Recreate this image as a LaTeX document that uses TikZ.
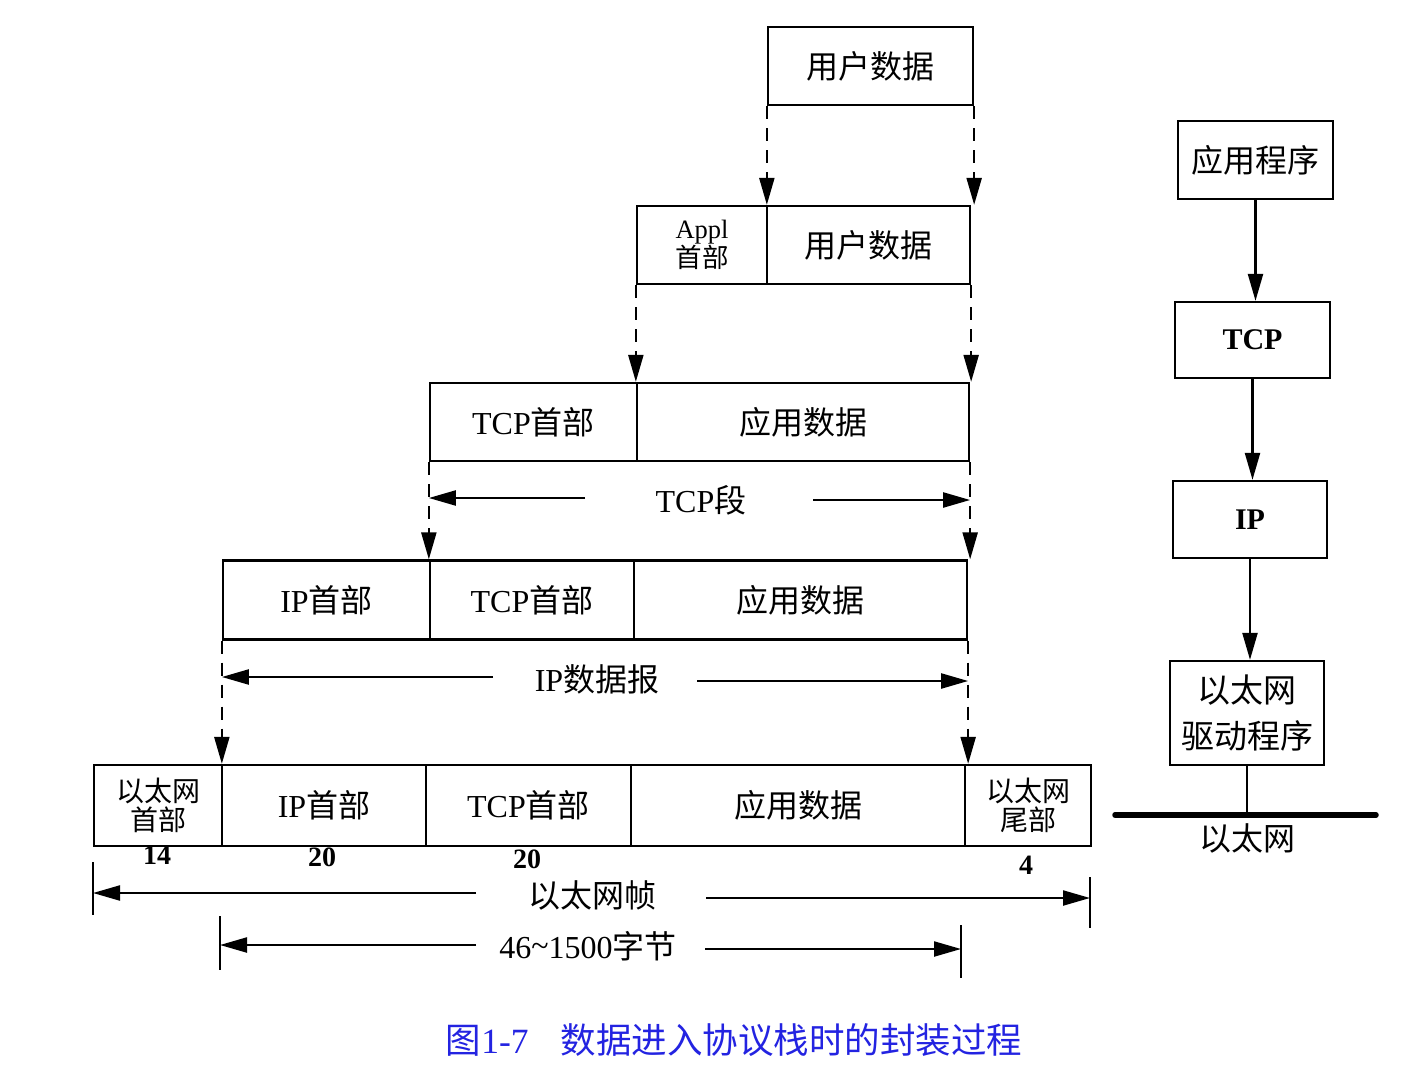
\documentclass[tikz,border=0pt]{standalone}
\usepackage{fontspec}
\setmainfont{Liberation Serif}
\newfontfamily\cjk{Noto Sans CJK SC}
\usetikzlibrary{arrows.meta,calc}
\definecolor{capblue}{RGB}{35,35,225}
\begin{document}
\begin{tikzpicture}[x=1pt,y=-1pt,
  box/.style={draw,line width=2.3pt,inner sep=0pt,minimum height=78pt,align=center,font=\fontsize{32}{36}\selectfont},
  smallbox/.style={box,font=\fontsize{26.5}{27}\selectfont},
  tip/.style={-{Triangle[length=27pt,width=15pt]}},
  dasharrow/.style={tip,line width=2.3pt,dash pattern=on 13pt off 9pt},
  solidarrow/.style={tip,line width=2.3pt},
  dimarrow/.style={tip,line width=2.2pt},
  tick/.style={line width=1.8pt},
  lbl/.style={inner sep=0pt,font=\fontsize{32}{36}\selectfont},
  num/.style={inner sep=0pt,font=\fontsize{28}{30}\selectfont\bfseries}
]
\useasboundingbox (0,0) rectangle (1409,1068);

% row 1
\node[box,minimum width=205pt] (u1) at (870.5,66) {\cjk 用户数据};
% row 2
\node[smallbox,minimum width=130pt] (r2a) at (702,245) {Appl\\\cjk 首部};
\node[box,minimum width=203pt] (r2b) at (868.5,245) {\cjk 用户数据};
% row 3
\node[box,minimum width=207pt] (r3a) at (533.5,422) {TCP\cjk 首部};
\node[box,minimum width=332pt] (r3b) at (803,422) {\cjk 应用数据};
% row 4
\node[box,minimum width=207pt,minimum height=79pt] (r4a) at (326.5,600) {IP\cjk 首部};
\node[box,minimum width=204pt,minimum height=79pt] (r4b) at (532,600) {TCP\cjk 首部};
\node[box,minimum width=333pt,minimum height=79pt] (r4c) at (800.5,600) {\cjk 应用数据};
% row 5
\node[box,minimum width=128pt,minimum height=81pt,font=\fontsize{28}{29}\selectfont] (r5a) at (158,805.5) {\cjk 以太网\\\cjk 首部};
\node[box,minimum width=204pt,minimum height=81pt] (r5b) at (324,805.5) {IP\cjk 首部};
\node[box,minimum width=205pt,minimum height=81pt] (r5c) at (528.5,805.5) {TCP\cjk 首部};
\node[box,minimum width=334pt,minimum height=81pt] (r5d) at (798,805.5) {\cjk 应用数据};
\node[box,minimum width=126pt,minimum height=81pt,font=\fontsize{28}{29}\selectfont] (r5e) at (1028,805.5) {\cjk 以太网\\\cjk 尾部};

% dashed arrows
\draw[dasharrow] (u1.south west) -- (u1.south west |- r2b.north);
\draw[dasharrow] (u1.south east) -- (u1.south east |- r2b.north);
\draw[dasharrow] (r2a.south west) -- (r2a.south west |- r3a.north);
\draw[dasharrow] (r2b.south east) -- (r2b.south east |- r3b.north);
\draw[dasharrow] (r3a.south west) -- (r3a.south west |- r4a.north);
\draw[dasharrow] (r3b.south east) -- (r3b.south east |- r4c.north);
\draw[dasharrow] (r4a.south west) -- (r4a.south west |- r5b.north);
\draw[dasharrow] (r4c.south east) -- (r4c.south east |- r5d.north);

% TCP segment
\node[lbl] (tcpseg) at (701,500) {TCP\cjk 段};
\coordinate (tsL) at (585,498);
\coordinate (tsR) at (813,500);
\draw[dimarrow] (tsL) -- (tsL -| r3a.west);
\draw[dimarrow] (tsR) -- (tsR -| r3b.east);

% IP datagram
\node[lbl] (ipdg) at (597,679) {IP\cjk 数据报};
\coordinate (ipL) at (493,677);
\coordinate (ipR) at (697,681);
\draw[dimarrow] (ipL) -- (ipL -| r4a.west);
\draw[dimarrow] (ipR) -- (ipR -| r4c.east);

% numbers
\node[num] (n14) at (157,855) {14};
\node[num] (n20a) at (322,857) {20};
\node[num] (n20b) at (527,859) {20};
\node[num] (n4) at (1026,865) {4};

% ethernet frame
\node[lbl] (frame) at (592,895) {\cjk 以太网帧};
\coordinate (fL) at (476,893);
\coordinate (fR) at (706,898);
\coordinate (fT1a) at (93,862);
\coordinate (fT1b) at (93,915);
\coordinate (fT2a) at (1090,877);
\coordinate (fT2b) at (1090,928);
\draw[tick] (fT1a) -- (fT1b);
\draw[tick] (fT2a) -- (fT2b);
\draw[dimarrow] (fL) -- (fL -| fT1a);
\draw[dimarrow] (fR) -- (fR -| fT2a);

% 46~1500
\node[lbl] (bytes) at (588,946) {46\raisebox{2pt}{\char`~}1500\cjk 字节};
\coordinate (bL) at (476,945);
\coordinate (bR) at (705,949);
\coordinate (bT1a) at (220,916);
\coordinate (bT1b) at (220,970);
\coordinate (bT2a) at (961,925);
\coordinate (bT2b) at (961,978);
\draw[tick] (bT1a) -- (bT1b);
\draw[tick] (bT2a) -- (bT2b);
\draw[dimarrow] (bL) -- (bL -| bT1a);
\draw[dimarrow] (bR) -- (bR -| bT2a);

% right-hand stack
\node[box,minimum width=155pt] (app) at (1255.5,160) {\cjk 应用程序};
\node[box,minimum width=155pt,minimum height=76pt,font=\fontsize{30}{34}\selectfont\bfseries] (tcp) at (1252.5,340) {TCP};
\node[box,minimum width=154pt,minimum height=77pt,font=\fontsize{30}{34}\selectfont\bfseries] (ip) at (1250,519.5) {IP};
\node[box,minimum width=154pt,minimum height=104pt,font=\fontsize{33}{46}\selectfont] (drv) at (1247,713) {\cjk 以太网\\\cjk 驱动程序};
\draw[solidarrow] (app.south) -- (app.south |- tcp.north);
\draw[solidarrow] (tcp.south) -- (tcp.south |- ip.north);
\draw[solidarrow] (ip.south) -- (ip.south |- drv.north);
\coordinate (busL) at (1115,815);
\coordinate (busR) at (1376,815);
\draw[line width=5.5pt,line cap=round] (busL) -- (busR);
\draw[line width=2.3pt] (drv.south) -- (drv.south |- busL);
\node[lbl] (ether) at (1247,838) {\cjk 以太网};

% caption
\node[inner sep=0pt,text=capblue,font=\fontsize{35.5}{38}\selectfont] (cap) at (734,1040) {\cjk 图\rmfamily 1-7\hspace{0.9em}\cjk 数据进入协议栈时的封装过程};
\end{tikzpicture}
\end{document}
